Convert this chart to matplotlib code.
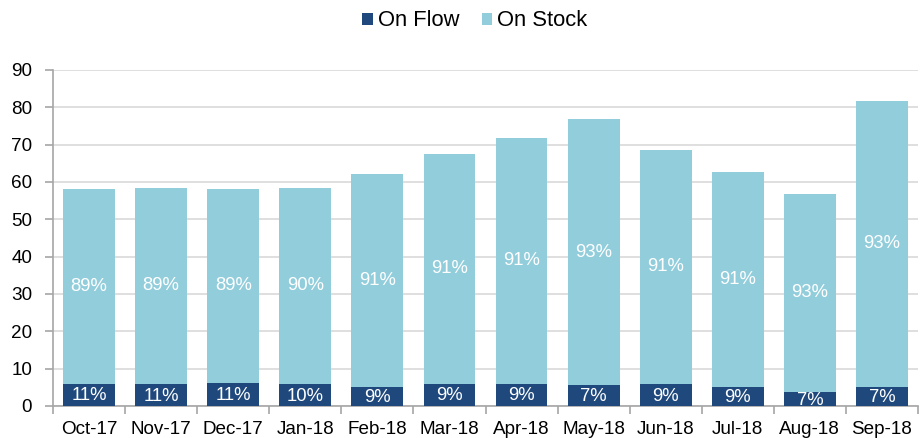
import matplotlib
matplotlib.use("Agg")
import matplotlib.pyplot as plt
import numpy as np

months = ["Oct-17", "Nov-17", "Dec-17", "Jan-18", "Feb-18", "Mar-18",
          "Apr-18", "May-18", "Jun-18", "Jul-18", "Aug-18", "Sep-18"]
totals = [58.2, 58.5, 58.2, 58.5, 62.2, 67.5, 71.7, 76.8, 68.6, 62.7, 56.8, 81.8]
on_flow = [6.0, 5.9, 6.2, 5.9, 5.1, 6.0, 6.0, 5.5, 5.9, 5.1, 3.8, 5.1]
flow_labels = ["11%", "11%", "11%", "10%", "9%", "9%", "9%", "7%", "9%", "9%", "7%", "7%"]
stock_labels = ["89%", "89%", "89%", "90%", "91%", "91%", "91%", "93%", "91%", "91%", "93%", "93%"]

on_stock = [t - f for t, f in zip(totals, on_flow)]

plt.rcParams['font.family'] = ['Liberation Sans', 'DejaVu Sans']

dark = "#1F497D"
light = "#92CDDC"
axc = "#A6A6A6"

fig = plt.figure(figsize=(9.21, 4.38), dpi=100)
ax = fig.add_axes([53/921, 1-406/438, (918-53)/921, (406-70)/438])

x = np.arange(len(months))
w = 0.72
b1 = ax.bar(x, on_flow, w, color=dark, label="On Flow", zorder=3)
b2 = ax.bar(x, on_stock, w, bottom=on_flow, color=light, label="On Stock", zorder=3)

for i in range(len(months)):
    ax.text(x[i], on_flow[i]/2 - 0.3, flow_labels[i], ha="center", va="center",
            color="white", fontsize=13.3, zorder=4)
    ax.text(x[i], on_flow[i] + on_stock[i]/2, stock_labels[i], ha="center", va="center",
            color="white", fontsize=13.3, zorder=4)

ax.set_xlim(-0.5, len(months)-0.5)
ax.set_ylim(0, 90)
ax.set_yticks(np.arange(0, 91, 10))
ax.set_xticks(x)
ax.set_xticklabels(months)
ax.set_xticks(np.arange(-0.5, len(months)), minor=True)
ax.tick_params(axis="x", which="major", length=0, pad=11, labelsize=13.6)
ax.tick_params(axis="x", which="minor", length=6, color=axc, width=1.2, direction="out")
ax.tick_params(axis="y", length=6, color=axc, width=1.2, labelsize=13.6, direction="out", pad=9)
ax.yaxis.grid(True, color="#D9D9D9", linewidth=1.2, zorder=0)
for s in ["top", "right"]:
    ax.spines[s].set_visible(False)
for s in ["left", "bottom"]:
    ax.spines[s].set_color(axc)
    ax.spines[s].set_linewidth(1.2)

fig.legend(handles=[b1, b2], loc="center", bbox_to_anchor=(475/921, 1-21/438), ncol=2,
           frameon=False, fontsize=15.8, handlelength=0.47, handleheight=0.47,
           handletextpad=0.25, columnspacing=1.0, borderpad=0)

fig.savefig("out.png", dpi=100)
